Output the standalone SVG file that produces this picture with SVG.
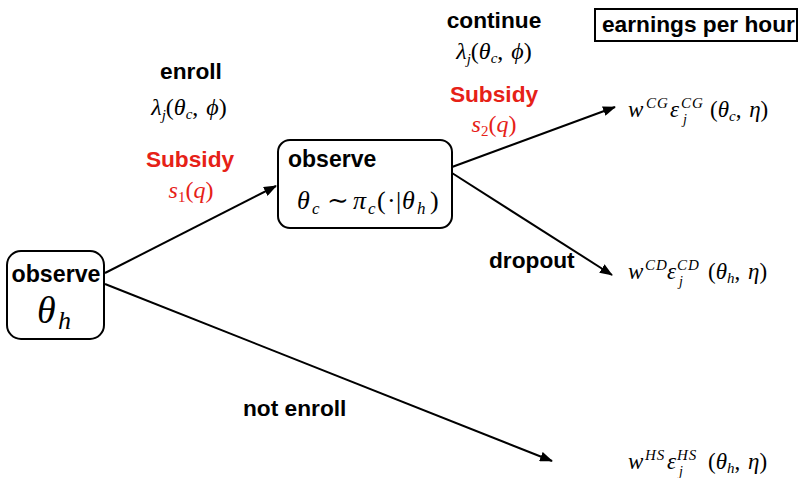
<svg xmlns="http://www.w3.org/2000/svg" width="800" height="478" viewBox="0 0 800 478">
<style>
.b{font-family:"Liberation Sans",Arial,Helvetica,sans-serif;font-weight:bold;font-size:22.7px}
.m{font-family:"Liberation Serif","Times New Roman","DejaVu Serif",serif;font-size:23px}
.i{font-style:italic}
.sm{font-size:15px}
.sup{font-size:15px;letter-spacing:1px}
.sub{font-size:14px}
.red{fill:#e62117}
.node{fill:#fff;stroke:#000;stroke-width:2}
.edge{stroke:#000;stroke-width:2;fill:none}
</style>
<defs>
<marker id="ah" viewBox="0 0 13 10" refX="12" refY="5" markerWidth="13" markerHeight="10" markerUnits="userSpaceOnUse" orient="auto">
<path d="M0,0 L13,5 L0,10 Z" fill="#000"/>
</marker>
</defs>
<rect width="800" height="478" fill="#fff"/>
<g id="connectors">
<line class="edge" x1="105" y1="273" x2="276" y2="186" marker-end="url(#ah)"/>
<line class="edge" x1="105" y1="284" x2="552" y2="461" marker-end="url(#ah)"/>
<line class="edge" x1="452" y1="167" x2="615" y2="107" marker-end="url(#ah)"/>
<line class="edge" x1="452" y1="173" x2="612" y2="275" marker-end="url(#ah)"/>
</g>
<g id="node-theta-h">
<rect class="node" x="7" y="251" width="97" height="88" rx="14"/>
<text class="b" x="56" y="282" text-anchor="middle" style="font-size:23.2px">observe</text>
<text class="m i" x="37" y="323" style="font-size:38px">θ</text>
<text class="m i" x="58" y="329" style="font-size:26px">h</text>
</g>
<g id="node-theta-c">
<rect class="node" x="278" y="140" width="174" height="88" rx="12"/>
<text class="b" x="288" y="167" style="font-size:23px">observe</text>
<text class="m i" x="297" y="209" style="font-size:26px">θ</text>
<text class="m i" x="312" y="214" style="font-size:17px">c</text>
<text class="m" x="327" y="209" style="font-size:26px">∼</text>
<text class="m i" x="353" y="209" style="font-size:26px">π</text>
<text class="m i" x="368" y="214" style="font-size:17px">c</text>
<text class="m" x="377" y="209" style="font-size:26px">(</text>
<text class="m" x="387" y="209" style="font-size:26px">·</text>
<text class="m" x="396" y="209" style="font-size:26px">|</text>
<text class="m i" x="402" y="209" style="font-size:26px">θ</text>
<text class="m i" x="417" y="214" style="font-size:17px">h</text>
<text class="m" x="430" y="209" style="font-size:26px">)</text>
</g>
<g id="label-enroll">
<text class="b" x="191" y="79" text-anchor="middle">enroll</text>
<text class="m" x="189" y="115" text-anchor="middle" style="font-size:24px"><tspan class="i">λ</tspan><tspan class="i sm" dy="5">j</tspan><tspan dy="-5">(</tspan><tspan class="i">θ</tspan><tspan class="i sm" dy="4">c</tspan><tspan dy="-4">, </tspan><tspan class="i" dx="2">ϕ</tspan>)</text>
<text class="b red" x="190" y="167" text-anchor="middle">Subsidy</text>
<text class="m red" x="191" y="198" text-anchor="middle" style="font-size:24px"><tspan class="i">s</tspan><tspan class="sm" dy="4">1</tspan><tspan dy="-4">(</tspan><tspan class="i">q</tspan>)</text>
</g>
<g id="label-continue">
<text class="b" x="494" y="28" text-anchor="middle">continue</text>
<text class="m" x="494" y="59" text-anchor="middle" style="font-size:24px"><tspan class="i">λ</tspan><tspan class="i sm" dy="5">j</tspan><tspan dy="-5">(</tspan><tspan class="i">θ</tspan><tspan class="i sm" dy="4">c</tspan><tspan dy="-4">, </tspan><tspan class="i" dx="2">ϕ</tspan>)</text>
<text class="b red" x="494" y="102" text-anchor="middle">Subsidy</text>
<text class="m red" x="494" y="132" text-anchor="middle" style="font-size:24px"><tspan class="i">s</tspan><tspan class="sm" dy="4">2</tspan><tspan dy="-4">(</tspan><tspan class="i">q</tspan>)</text>
</g>
<g id="label-dropout">
<text class="b" x="489" y="268">dropout</text>
</g>
<g id="label-not-enroll">
<text class="b" x="243" y="416">not enroll</text>
</g>
<g id="node-earnings">
<rect x="595" y="9" width="202" height="32" fill="#fff" stroke="#000" stroke-width="2"/>
<text class="b" x="602" y="32">earnings per hour</text>
</g>
<g id="node-cg">
<text class="m i" x="628" y="117">w</text>
<text class="m i sup" x="646" y="108">CG</text>
<text class="m i" x="670" y="117">ε</text>
<text class="m i sup" x="681" y="108">CG</text>
<text class="m i sub" x="683" y="124">j</text>
<text class="m" x="710" y="117">(<tspan class="i">θ</tspan><tspan class="i sm" dy="4">c</tspan><tspan dy="-4">, </tspan><tspan class="i" dx="2">η</tspan>)</text>
</g>
<g id="node-cd">
<text class="m i" x="628" y="279">w</text>
<text class="m i sup" x="645" y="270">CD</text>
<text class="m i" x="667" y="279">ε</text>
<text class="m i sup" x="677" y="270">CD</text>
<text class="m i sub" x="679" y="286">j</text>
<text class="m" x="708" y="279">(<tspan class="i">θ</tspan><tspan class="i sm" dy="4">h</tspan><tspan dy="-4">, </tspan><tspan class="i" dx="2">η</tspan>)</text>
</g>
<g id="node-hs">
<text class="m i" x="628" y="469">w</text>
<text class="m i sup" x="645" y="460">HS</text>
<text class="m i" x="667" y="469">ε</text>
<text class="m i sup" x="677" y="460">HS</text>
<text class="m i sub" x="679" y="476">j</text>
<text class="m" x="708" y="469">(<tspan class="i">θ</tspan><tspan class="i sm" dy="4">h</tspan><tspan dy="-4">, </tspan><tspan class="i" dx="2">η</tspan>)</text>
</g>
</svg>
